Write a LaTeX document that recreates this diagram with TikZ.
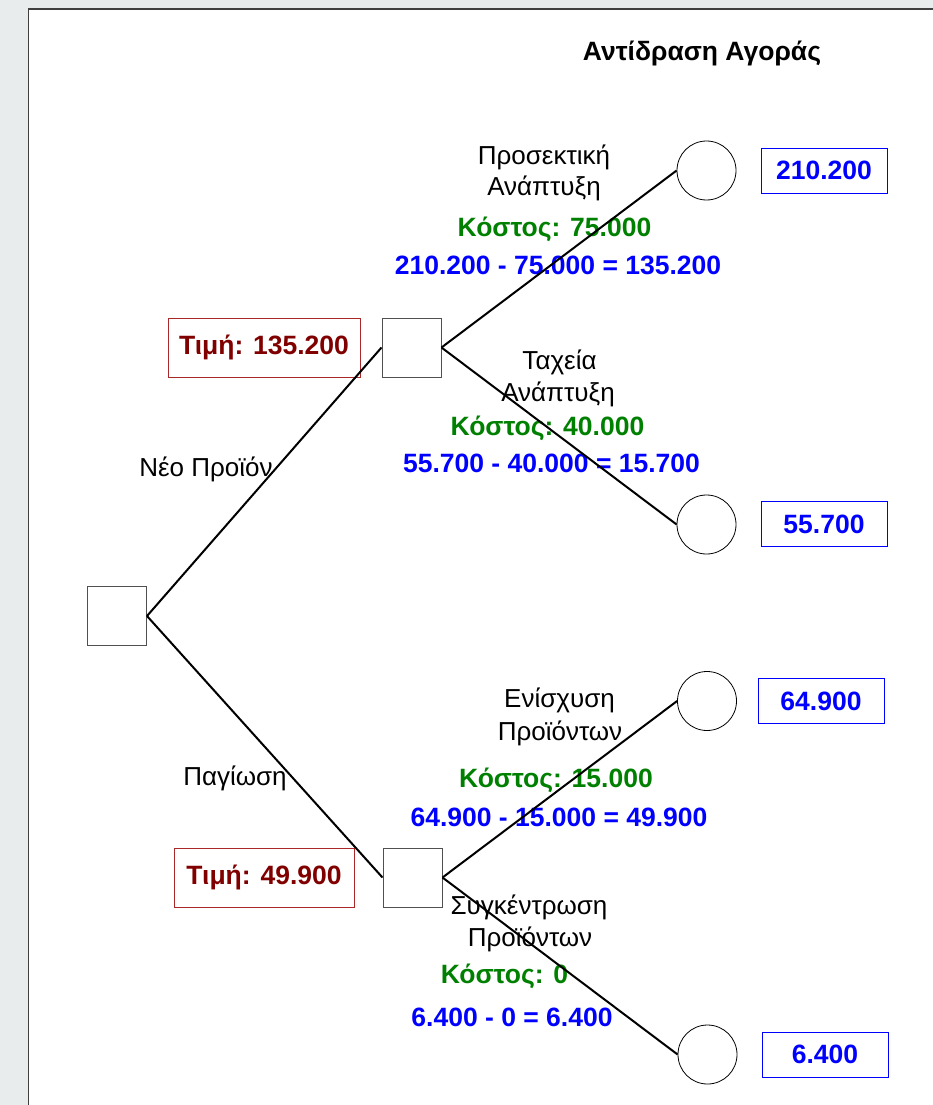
\documentclass[tikz,border=0pt]{standalone}
\usepackage{fontspec}
\setmainfont{Liberation Sans}
\definecolor{pagegray}{RGB}{232,236,236}
\definecolor{darkred}{RGB}{128,0,0}
\definecolor{boxred}{RGB}{170,40,40}
\definecolor{dgreen}{RGB}{0,128,0}
\definecolor{sqgray}{RGB}{80,80,80}
\begin{document}
\begin{tikzpicture}[x=1pt,y=-1pt,
  decision/.style={draw=sqgray,line width=1pt,minimum width=59pt,minimum height=59pt,inner sep=0pt},
  chance/.style={draw=black,line width=0.8pt,circle,minimum size=59pt,inner sep=0pt},
  pricebox/.style={draw=boxred,line width=0.8pt,inner sep=0pt,font=\fontsize{26.5}{31}\selectfont\bfseries,text=darkred},
  valbox/.style={draw=blue,line width=1pt,minimum width=126pt,minimum height=45pt,inner sep=0pt,font=\fontsize{26.5}{31}\selectfont\bfseries,text=blue},
  lbl/.style={font=\fontsize{26}{31}\selectfont,text=black,align=center,inner sep=0pt},
  cost/.style={font=\fontsize{26.5}{31}\selectfont\bfseries,text=dgreen,inner sep=0pt},
  calc/.style={font=\fontsize{26.5}{31}\selectfont\bfseries,text=blue,inner sep=0pt},
  branch/.style={draw=black,line width=2pt}]
\useasboundingbox (0,0) rectangle (933,1105);
\fill[pagegray] (0,0) rectangle (933,1105);
\fill[white] (28.5,9) rectangle (933,1105);
\draw[line width=1.5pt,draw=black!75] (28.5,1105) -- (28.5,9) -- (933,9);

\node[font=\fontsize{26.5}{31}\selectfont\bfseries,inner sep=0pt] (title) at (702,53) {Αντίδραση Αγοράς};

% decision nodes
\node[decision] (root) at (117,616) {};
\node[decision] (up) at (411.5,347.5) {};
\node[decision] (lo) at (412.5,877.5) {};

% chance nodes
\node[chance] (c1) at (706.5,170.5) {};
\node[chance] (c2) at (706.5,524.5) {};
\node[chance] (c3) at (707,701) {};
\node[chance] (c4) at (707.5,1054.5) {};

% value boxes
\node[valbox] (v1) at (824,170.5) {210.200};
\node[valbox] (v2) at (824,524) {55.700};
\node[valbox] (v3) at (821,701) {64.900};
\node[valbox] (v4) at (825,1054.5) {6.400};

% price boxes
\node[pricebox,minimum width=192pt,minimum height=59pt] (p1) at (264,347.5) {Τιμή: 135.200};
\node[pricebox,minimum width=180pt,minimum height=59pt] (p2) at (264,877.5) {Τιμή: 49.900};

% labels
\node[lbl] (l1a) at (544,157) {Προσεκτική};
\node[lbl] (l1b) at (544,188) {Ανάπτυξη};
\node[cost] (k1) at (554.5,229) {Κόστος: 75.000};
\node[calc] (m1) at (558,265) {210.200 - 75.000 = 135.200};

\node[lbl] (l2a) at (559.5,362) {Ταχεία};
\node[lbl] (l2b) at (558,394) {Ανάπτυξη};
\node[cost] (k2) at (547.5,428) {Κόστος: 40.000};
\node[calc] (m2) at (551.5,463) {55.700 - 40.000 = 15.700};

\node[lbl] (n1) at (206,469) {Νέο Προϊόν};
\node[lbl] (n2) at (235,778) {Παγίωση};

\node[lbl] (l3a) at (559.5,700) {Ενίσχυση};
\node[lbl] (l3b) at (560,733) {Προϊόντων};
\node[cost] (k3) at (556,780) {Κόστος: 15.000};
\node[calc] (m3) at (559,817) {64.900 - 15.000 = 49.900};

\node[lbl] (l4a) at (529,907) {Συγκέντρωση};
\node[lbl] (l4b) at (530,939) {Προϊόντων};
\node[cost] (k4) at (504.5,976) {Κόστος: 0};
\node[calc] (m4) at (512,1017) {6.400 - 0 = 6.400};

% branches
\draw[branch] (root.east) -- (up.west);
\draw[branch] (root.east) -- (lo.west);
\draw[branch] (up.east) -- (c1.west);
\draw[branch] (up.east) -- (c2.west);
\draw[branch] (lo.east) -- (c3.west);
\draw[branch] (lo.east) -- (c4.west);
\end{tikzpicture}
\end{document}
